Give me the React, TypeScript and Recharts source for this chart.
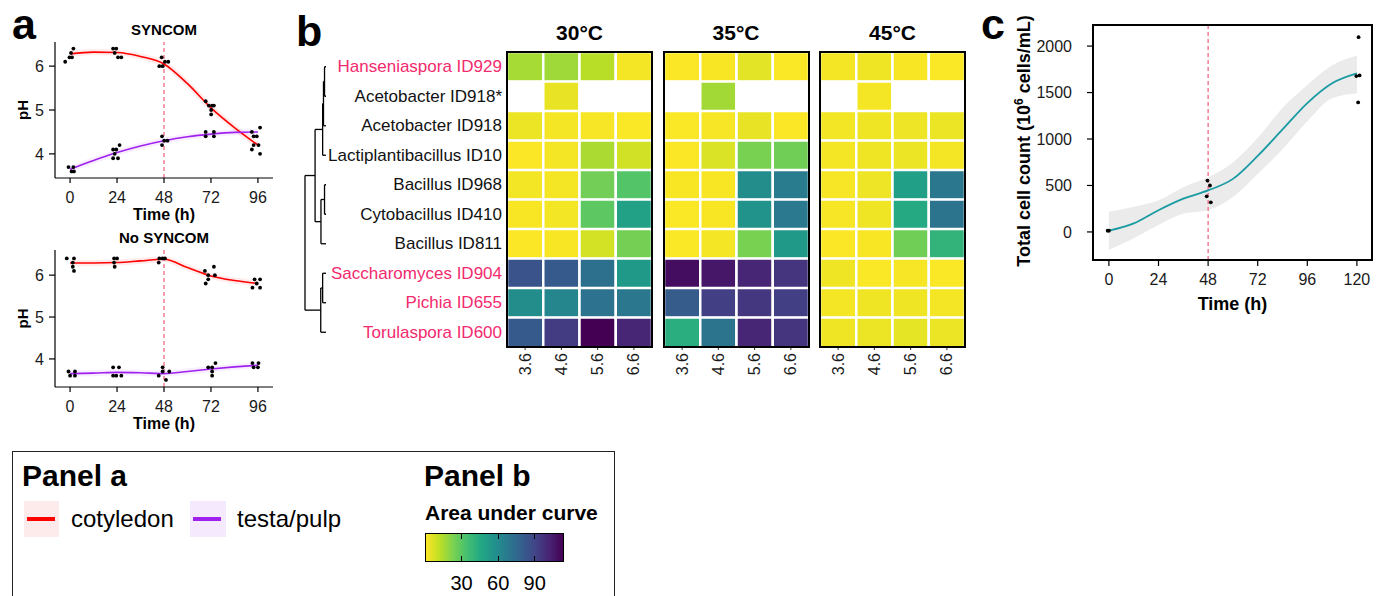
import React from 'react';
import {
  ComposedChart, Line, Scatter, Area, XAxis, YAxis, ReferenceLine,
  BarChart, Bar, Cell, ScatterChart,
} from 'recharts';

const FONT = '"Liberation Sans", Arial, Helvetica, sans-serif';
const DASH = '#ef4f6d';
const RED = '#ff0000';
const PURPLE = '#a020f0';
const TEAL = '#1a9aa2';
const PINK = '#f22a6e';
const INK = '#1a1a1a';

// ---- panel a: pH over time ----
const phTicks = [0, 24, 48, 72, 96];
const smoothTimes = [0, 12, 24, 36, 48, 60, 72, 84, 96];
const syncomCot = [6.28, 6.32, 6.31, 6.22, 6.05, 5.6, 5.05, 4.6, 4.2];
const syncomTesta = [3.65, 3.85, 4.03, 4.18, 4.3, 4.39, 4.45, 4.49, 4.5];
const noSyncomCot = [6.29, 6.29, 6.3, 6.34, 6.38, 6.18, 5.98, 5.87, 5.8];
const noSyncomTesta = [3.65, 3.66, 3.68, 3.67, 3.65, 3.7, 3.76, 3.81, 3.85];

// measured points [time (jittered), pH]
const syncomPts: [number, number][] = [
  [-2.5, 6.1], [-0.3, 6.2], [1.0, 6.2], [0.5, 6.3], [1.7, 6.4], [-0.8, 3.7], [1.7, 3.7], [0.8, 3.6], [2.0, 3.6],
  [22, 6.4], [23.6, 6.4], [22.8, 6.3], [24.5, 6.2], [26.2, 6.2], [22, 4.1], [23.6, 4.1], [22.8, 4.0], [22, 3.9], [24.5, 3.9], [25.3, 4.2],
  [45.6, 6.0], [47.3, 6.0], [46.8, 6.2], [48.5, 6.1], [50.2, 6.1], [47, 4.4], [47, 4.2], [48.1, 4.3], [49.8, 4.3],
  [69.3, 5.2], [70.9, 5.1], [72.6, 5.1], [73.5, 5.1], [72.1, 5.0], [72.1, 4.9], [69.3, 4.5], [73.5, 4.5], [69.3, 4.4], [73.5, 4.4],
  [92.9, 4.5], [93.8, 4.4], [95.4, 4.4], [97.1, 4.6], [92.9, 4.1], [93.8, 4.2], [96.3, 4.2], [97.1, 4.0],
];
const noSyncomPts: [number, number][] = [
  [-1.7, 6.4], [2.0, 6.4], [1.4, 6.3], [1.4, 6.2], [2.0, 6.1], [-0.8, 3.7], [2.5, 3.7], [0, 3.6], [2.5, 3.6],
  [22.5, 6.4], [24, 6.4], [22.5, 6.3], [22.8, 6.2], [22, 3.8], [25, 3.8], [22, 3.6], [23.6, 3.6], [26.2, 3.6],
  [45.6, 6.4], [47.3, 6.4], [48.5, 6.4], [45.3, 6.3], [47.3, 3.8], [47.3, 3.7], [50.7, 3.7], [45.3, 3.6], [49, 3.5],
  [68.9, 6.1], [70.6, 6.0], [73.5, 6.2], [74, 6.0], [70.6, 5.9], [69.3, 5.8], [70.6, 3.8], [72.6, 3.8], [74.3, 3.9], [72.6, 3.7], [72.6, 3.6],
  [94.3, 5.9], [97.1, 5.9], [95.4, 5.8], [93.2, 5.7], [97.1, 5.7], [93.2, 3.9], [96.3, 3.9], [93.8, 3.8], [96, 3.8],
];

// ---- panel b: growth heatmap ----
const species = [
  'Hanseniaspora ID929', 'Acetobacter ID918*', 'Acetobacter ID918', 'Lactiplantibacillus ID10',
  'Bacillus ID968', 'Cytobacillus ID410', 'Bacillus ID811',
  'Saccharomyces ID904', 'Pichia ID655', 'Torulaspora ID600',
];
const yeasts = ['Hanseniaspora ID929', 'Saccharomyces ID904', 'Pichia ID655', 'Torulaspora ID600'];
const phLabels = ['3.6', '4.6', '5.6', '6.6'];
const temps = ['30°C', '35°C', '45°C'];
const auc30 = [
  [15.3, 16.5, 12, 1.4], [null, 3.8, null, null], [3.1, 1.4, 1.3, 0.6], [0.4, 1.4, 14.5, 8], [1.9, 1.4, 24.5, 31],
  [0.9, 1.9, 29, 49], [0.4, 0.9, 7.3, 24], [85, 82, 72, 53], [59, 62, 71, 69], [82, 94, 114, 102],
];
const auc35 = [
  [0.4, 0.9, 4.8, 0.6], [null, 16, null, null], [0.6, 1.1, 3.8, 0.4], [0.4, 6.3, 23, 25], [0.9, 0.9, 59, 67],
  [0.6, 0.9, 56, 68], [0.6, 1.4, 23, 53], [110, 107, 102, 97], [81, 93, 96, 93], [43, 70, 102, 97],
];
const auc45 = [
  [1.4, 2.5, 0.9, 0.6], [null, 1.4, null, null], [1.9, 2.5, 2.9, 3.2], [1.4, 2.5, 3.1, 1.4], [1.1, 2.9, 50, 69],
  [1.1, 2.3, 45, 70], [0.4, 0.9, 25, 40], [2.3, 0.6, 1.1, 0.6], [1.4, 2.3, 2.5, 1.4], [2.3, 3.2, 4.3, 3.2],
];
const aucByTemp = [auc30, auc35, auc45];
const AUC_MAX = 114;
const aucTicks = [30, 60, 90];

// dendrogram merges: [node, node, height]; nodes are row indexes or earlier merges (m0, m1, ...)
const dendroMerges: [number | string, number | string, number][] = [
  [0, 1, 0.7], ['m0', 2, 1.2], ['m1', 3, 1.6], [4, 5, 0.7], ['m3', 6, 2.4],
  ['m2', 'm4', 5.2], [7, 8, 1.6], ['m6', 9, 2.5], ['m5', 'm7', 10],
];

// ---- panel c: total cell count ----
const cellTimes = [0, 12, 24, 36, 48, 60, 72, 84, 96, 108, 120];
const cellFit = [14, 92, 234, 358, 447, 571, 819, 1103, 1387, 1600, 1706];
const cellLow = [-191, -67, 74, 199, 234, 376, 624, 890, 1191, 1440, 1493];
const cellHigh = [216, 270, 340, 482, 589, 748, 1014, 1333, 1582, 1794, 1900];
const cellPts: [number, number][] = [
  [-0.6, 14], [0, 14], [47.7, 553], [48.9, 500], [47.3, 383], [49.3, 319],
  [120.8, 2096], [119.7, 1677], [121.3, 1684], [120.6, 1394],
];

const VIRIDIS = ['#440154', '#482475', '#414487', '#355f8d', '#2a788e', '#21918c', '#22a884', '#44bf70', '#7ad151', '#bddf26', '#fde725'];

function viridis(t: number) {
  const c = Math.max(0, Math.min(1, t)) * (VIRIDIS.length - 1);
  const i = Math.min(Math.floor(c), VIRIDIS.length - 2);
  const f = c - i;
  const a = VIRIDIS[i], b = VIRIDIS[i + 1];
  const ch = (s: string, k: number) => parseInt(s.slice(1 + 2 * k, 3 + 2 * k), 16);
  const mix = [0, 1, 2].map((k) => Math.round(ch(a, k) + (ch(b, k) - ch(a, k)) * f));
  return `rgb(${mix.join(',')})`;
}
const aucColor = (v: number | null) => (v == null ? '#ffffff' : viridis(1 - v / AUC_MAX));

const Dot = (p: any) => <circle cx={p.cx} cy={p.cy} r={1.9} fill="#000" />;

const abs = (left: number, top: number, extra: React.CSSProperties = {}): React.CSSProperties => ({
  position: 'absolute', left, top, ...extra,
});

function PhPanel({ top, title, cot, testa, pts, yDomain, mb }: any) {
  const cotData = smoothTimes.map((x, i) => ({ x, y: cot[i] }));
  const testaData = smoothTimes.map((x, i) => ({ x, y: testa[i] }));
  const ptData = pts.map(([x, y]: [number, number]) => ({ x, y }));
  return (
    <>
      <div style={abs(0, top, { width: 285, height: 205 })}>
        <ComposedChart width={285} height={205} margin={{ top: 22, right: 12, bottom: mb, left: 0 }}>
          <XAxis
            type="number" dataKey="x" domain={[-7.7, 103.7]} ticks={phTicks} height={42}
            axisLine={{ stroke: '#000', strokeWidth: 1.2 }} tickLine={{ stroke: '#000', strokeWidth: 1.2 }}
            tickSize={5} tickMargin={9} tick={{ fill: INK, fontSize: 16 }}
            label={{ value: 'Time (h)', position: 'insideBottom', offset: 0, fontSize: 16, fontWeight: 'bold', fill: '#000' }}
          />
          <YAxis
            type="number" domain={yDomain} ticks={[4, 5, 6]} width={55} allowDataOverflow
            axisLine={{ stroke: '#000', strokeWidth: 1.2 }} tickLine={{ stroke: '#000', strokeWidth: 1.2 }}
            tickSize={6} tickMargin={5} tick={{ fill: INK, fontSize: 16 }}
            label={{ value: 'pH', angle: -90, position: 'center', dx: -5, fontSize: 15, fontWeight: 'bold', fill: '#000' }}
          />
          <ReferenceLine x={48} stroke={DASH} strokeDasharray="4 3" strokeWidth={1.1} />
          <Line data={cotData} dataKey="y" type="monotone" stroke={RED} strokeOpacity={0.08} strokeWidth={6} dot={false} isAnimationActive={false} />
          <Line data={testaData} dataKey="y" type="monotone" stroke={PURPLE} strokeOpacity={0.08} strokeWidth={6} dot={false} isAnimationActive={false} />
          <Line data={cotData} dataKey="y" type="monotone" stroke={RED} strokeWidth={1.6} dot={false} isAnimationActive={false} />
          <Line data={testaData} dataKey="y" type="monotone" stroke={PURPLE} strokeWidth={1.6} dot={false} isAnimationActive={false} />
          <Scatter data={ptData} dataKey="y" shape={Dot} isAnimationActive={false} />
        </ComposedChart>
      </div>
      <div style={abs(55, top + 1.5, { width: 218, textAlign: 'center', fontSize: 15, fontWeight: 'bold', lineHeight: '16px' })}>{title}</div>
    </>
  );
}

const SpeciesTick = (p: any) => (
  <text x={p.x} y={p.y} textAnchor="end" dominantBaseline="central" fontSize={17}
    fill={yeasts.includes(p.payload.value) ? PINK : '#111'}>
    {p.payload.value}
  </text>
);

const PhTick = (p: any) => (
  <text x={p.x} y={p.y} transform={`rotate(-90, ${p.x}, ${p.y})`} textAnchor="end"
    dominantBaseline="central" fontSize={16} fill={INK}>
    {phLabels[Math.floor(p.payload.value)]}
  </text>
);

function Facet({ idx }: { idx: number }) {
  const auc = aucByTemp[idx];
  const left = 507 + idx * 156.5;
  const yW = idx === 0 ? 200 : 0;
  const rows = species.map((name) => ({ name, c0: 1, c1: 1, c2: 1, c3: 1 }));
  return (
    <>
      <div style={abs(left, 21, { width: 145, textAlign: 'center', fontSize: 21, fontWeight: 'bold', lineHeight: '23px' })}>{temps[idx]}</div>
      <div style={abs(left - yW, 52)}>
        <BarChart width={145 + yW} height={340} data={rows} layout="vertical" barCategoryGap={0} barGap={0}
          margin={{ top: 0, right: 0, bottom: 0, left: 0 }}>
          <XAxis type="number" domain={[0, 4]} ticks={[0.5, 1.5, 2.5, 3.5]} interval={0} allowDataOverflow
            axisLine={false} tickLine={{ stroke: '#333' }} tickSize={3} tickMargin={3} height={45} tick={<PhTick />} />
          {idx === 0 ? (
            <YAxis type="category" dataKey="name" width={yW} axisLine={false} tickLine={false}
              tickSize={0} tickMargin={5} interval={0} tick={<SpeciesTick />} />
          ) : (
            <YAxis type="category" dataKey="name" hide />
          )}
          {phLabels.map((_, j) => (
            <Bar key={j} dataKey={`c${j}`} stackId="a" isAnimationActive={false}>
              {species.map((s, i) => (
                <Cell key={s} fill={aucColor(auc[i][j])} stroke="#fff" strokeWidth={2.5} />
              ))}
            </Bar>
          ))}
        </BarChart>
      </div>
      <div style={abs(left - 1, 51, { width: 147, height: 297, border: '2px solid #000', boxSizing: 'border-box' })} />
    </>
  );
}

function dendroSegments() {
  const pos: Record<string, { y: number; h: number }> = {};
  species.forEach((_, i) => { pos[i] = { y: i, h: 0 }; });
  const segs: number[][] = [];
  dendroMerges.forEach(([a, b, h], k) => {
    const A = pos[a], B = pos[b];
    segs.push([A.h, A.y, h, A.y], [B.h, B.y, h, B.y], [h, A.y, h, B.y]);
    pos['m' + k] = { y: (A.y + B.y) / 2, h };
  });
  return segs;
}

function Dendrogram() {
  const segs = dendroSegments();
  const leaves = species.map((_, i) => ({ h: 0, r: i }));
  return (
    <div style={abs(300, 52)}>
      <ScatterChart width={31} height={295} margin={{ top: 0, right: 5, bottom: 0, left: 5 }}>
        <XAxis type="number" dataKey="h" domain={[0, 10]} reversed hide />
        <YAxis type="number" dataKey="r" domain={[-0.5, 9.5]} reversed hide />
        <Scatter data={leaves} shape={() => <g />} isAnimationActive={false} />
        {segs.map((s, i) => (
          <ReferenceLine key={i} segment={[{ x: s[0], y: s[1] }, { x: s[2], y: s[3] }]}
            stroke="#000" strokeWidth={1.3} ifOverflow="visible" />
        ))}
      </ScatterChart>
    </div>
  );
}

function CellPanel() {
  const band = cellTimes.map((x, i) => ({ x, range: [cellLow[i], cellHigh[i]] }));
  const fit = cellTimes.map((x, i) => ({ x, y: cellFit[i] }));
  const pts = cellPts.map(([x, y]) => ({ x, y }));
  return (
    <>
      <div style={abs(990, 0)}>
        <ComposedChart width={399} height={320} margin={{ top: 25, right: 17, bottom: 10, left: 0 }}>
          <XAxis type="number" dataKey="x" domain={[-7.7, 127.3]} ticks={[0, 24, 48, 72, 96, 120]} height={50}
            axisLine={false} tickLine={{ stroke: '#000', strokeWidth: 1.2 }} tickSize={6} tickMargin={8}
            tick={{ fill: INK, fontSize: 16 }}
            label={{ value: 'Time (h)', position: 'insideBottom', offset: 0, fontSize: 18, fontWeight: 'bold', fill: '#000' }} />
          <YAxis type="number" domain={[-302, 2227]} ticks={[0, 500, 1000, 1500, 2000]} width={103} allowDataOverflow
            axisLine={false} tickLine={{ stroke: '#000', strokeWidth: 1.2 }} tickSize={6} tickMargin={15}
            tick={{ fill: INK, fontSize: 16 }} />
          <Area data={band} dataKey="range" type="monotone" fill="#ebebeb" fillOpacity={1} stroke="none" isAnimationActive={false} />
          <ReferenceLine x={48} stroke={DASH} strokeDasharray="4 3" strokeWidth={1.1} />
          <Line data={fit} dataKey="y" type="monotone" stroke={TEAL} strokeWidth={1.8} dot={false} isAnimationActive={false} />
          <Scatter data={pts} dataKey="y" shape={Dot} isAnimationActive={false} />
        </ComposedChart>
      </div>
      <div style={abs(1092, 24, { width: 281, height: 237, border: '2px solid #000', boxSizing: 'border-box' })} />
      <div style={abs(1023, 141, {
        transform: 'translate(-50%, -50%) rotate(-90deg)', whiteSpace: 'nowrap', fontSize: 18, fontWeight: 'bold',
      })}>
        Total cell count (10<sup style={{ fontSize: 12 }}>6</sup> cells/mL)
      </div>
    </>
  );
}

function Legend() {
  const bar = [...VIRIDIS].reverse().join(', ');
  const x = (v: number) => 425 + (v / AUC_MAX) * 139;
  return (
    <>
      <div style={abs(12, 451, { width: 603, height: 200, border: '1px solid #222', boxSizing: 'border-box' })} />
      <div style={abs(22, 461, { fontSize: 30, fontWeight: 'bold', lineHeight: '30px' })}>Panel a</div>
      <div style={abs(24, 501, { width: 35, height: 36, background: '#fdeaea' })} />
      <div style={abs(27, 517, { width: 28, height: 4, background: RED })} />
      <div style={abs(71, 506, { fontSize: 24, lineHeight: '26px' })}>cotyledon</div>
      <div style={abs(190, 501, { width: 36, height: 36, background: '#f5eafd' })} />
      <div style={abs(193, 517, { width: 28, height: 4, background: PURPLE })} />
      <div style={abs(237, 506, { fontSize: 24, lineHeight: '26px' })}>testa/pulp</div>

      <div style={abs(424, 461, { fontSize: 30, fontWeight: 'bold', lineHeight: '30px' })}>Panel b</div>
      <div style={abs(425, 502, { fontSize: 21, fontWeight: 'bold', lineHeight: '22px' })}>Area under curve</div>
      <div style={abs(425, 533, {
        width: 139, height: 29, border: '1px solid #000', boxSizing: 'border-box',
        background: `linear-gradient(to right, ${bar})`,
      })} />
      {aucTicks.map((v) => (
        <React.Fragment key={v}>
          <div style={abs(x(v) - 0.5, 534, { width: 1.2, height: 5, background: '#000' })} />
          <div style={abs(x(v) - 0.5, 556, { width: 1.2, height: 5, background: '#000' })} />
          <div style={abs(x(v) - 20, 572, { width: 40, textAlign: 'center', fontSize: 20, lineHeight: '22px' })}>{v}</div>
        </React.Fragment>
      ))}
    </>
  );
}

export default function App() {
  return (
    <div style={{ position: 'absolute', left: 0, top: 0, width: 1389, height: 596, background: '#fff', fontFamily: FONT, color: '#000', overflow: 'hidden' }}>
      <div style={abs(12, 3, { fontSize: 43, fontWeight: 'bold', lineHeight: '43px' })}>a</div>
      <div style={abs(296, 10, { fontSize: 43, fontWeight: 'bold', lineHeight: '43px' })}>b</div>
      <div style={abs(981, 3, { fontSize: 43, fontWeight: 'bold', lineHeight: '43px' })}>c</div>

      <PhPanel top={20} title="SYNCOM" cot={syncomCot} testa={syncomTesta} pts={syncomPts} yDomain={[3.45, 6.55]} mb={5} />
      <PhPanel top={228} title="No SYNCOM" cot={noSyncomCot} testa={noSyncomTesta} pts={noSyncomPts} yDomain={[3.33, 6.6]} mb={4} />

      <Dendrogram />
      {temps.map((_, i) => <Facet key={i} idx={i} />)}

      <CellPanel />
      <Legend />
    </div>
  );
}
